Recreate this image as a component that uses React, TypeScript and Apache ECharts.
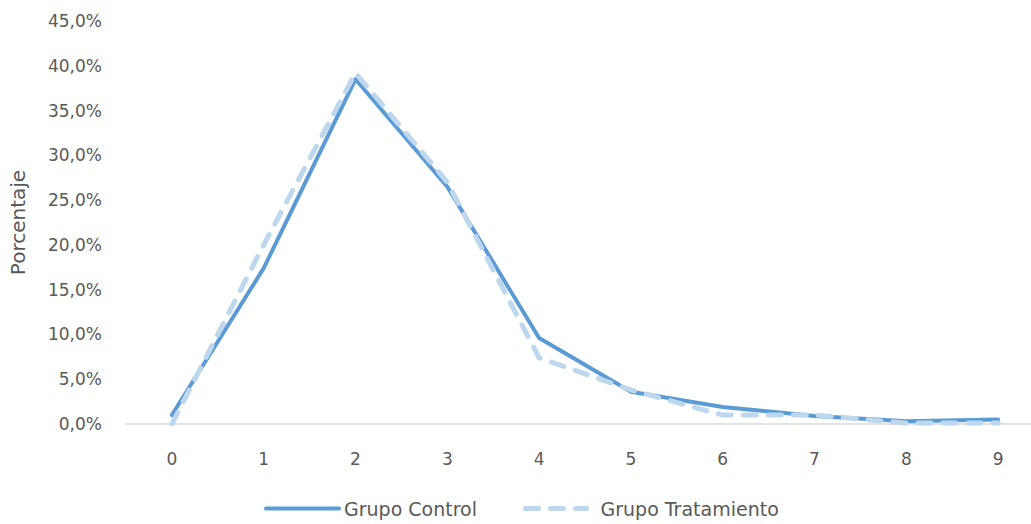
import React, { useEffect, useRef } from "react";
import * as echarts from "echarts";

const categories = ["0", "1", "2", "3", "4", "5", "6", "7", "8", "9"];
const controlValues = [1.0, 17.4, 38.5, 26.5, 9.6, 3.6, 1.9, 0.9, 0.3, 0.5];
const treatmentValues = [0.0, 20.0, 39.2, 27.0, 7.4, 3.8, 1.0, 1.0, 0.1, 0.1];
const seriesNames = ["Grupo Control", "Grupo Tratamiento"];
const yAxisName = "Porcentaje";

const FONT = "'DejaVu Sans', sans-serif";
const TEXT = "#595959";
const C1 = "#5B9BD5";
const C2 = "#BDD7EE";

export default function App() {
  const ref = useRef<HTMLDivElement>(null);
  useEffect(() => {
    if (!ref.current) return;
    const chart = echarts.init(ref.current, undefined, { renderer: "svg" });
    chart.setOption({
      animation: false,
      textStyle: { fontFamily: FONT },
      grid: { left: 124, right: 0, top: 21, bottom: 100, containLabel: false },
      legend: [
        {
          data: [seriesNames[0]],
          left: 264,
          top: 499,
          padding: 0,
          itemWidth: 73,
          itemHeight: 16,
          itemGap: 0,
          itemStyle: { opacity: 0 },
          lineStyle: { color: C1, width: 4, cap: "round" },
          textStyle: { color: TEXT, fontSize: 19, fontFamily: FONT },
        },
        {
          data: [seriesNames[1]],
          left: 523,
          top: 499,
          padding: 0,
          itemWidth: 61,
          itemHeight: 16,
          itemStyle: { opacity: 0 },
          lineStyle: { color: C2, width: 5, type: [13, 12], cap: "round" },
          textStyle: { color: TEXT, fontSize: 19, fontFamily: FONT, padding: [0, 0, 0, 9] },
        },
      ],
      xAxis: {
        type: "category",
        data: categories,
        boundaryGap: true,
        axisLine: { lineStyle: { color: "#D9D9D9", width: 1.5 } },
        axisTick: { show: false },
        axisLabel: { color: TEXT, fontSize: 17, margin: 26, fontFamily: FONT },
        splitLine: { show: false },
      },
      yAxis: {
        type: "value",
        min: 0,
        max: 45,
        interval: 5,
        name: yAxisName,
        nameLocation: "middle",
        nameGap: 98,
        nameRotate: 90,
        nameTextStyle: { color: TEXT, fontSize: 20, fontFamily: FONT },
        axisLine: { show: false },
        axisTick: { show: false },
        splitLine: { show: false },
        axisLabel: {
          color: TEXT,
          fontSize: 17,
          margin: 24,
          fontFamily: FONT,
          formatter: (v: number) => v.toFixed(1).replace(".", ",") + "%",
        },
      },
      series: [
        {
          name: seriesNames[0],
          type: "line",
          data: controlValues,
          symbol: "none",
          z: 2,
          itemStyle: { color: C1 },
          lineStyle: { color: C1, width: 4, cap: "round", join: "round" },
        },
        {
          name: seriesNames[1],
          type: "line",
          data: treatmentValues,
          symbol: "none",
          z: 3,
          itemStyle: { color: C2 },
          lineStyle: { color: C2, width: 5, type: [13, 12], cap: "round", join: "round" },
        },
      ],
    });
    return () => chart.dispose();
  }, []);
  return (
    <div style={{ position: "absolute", left: 0, top: 0, width: 1031, height: 524, overflow: "hidden" }}>
      <div ref={ref} style={{ width: 1044, height: 524 }} />
    </div>
  );
}
